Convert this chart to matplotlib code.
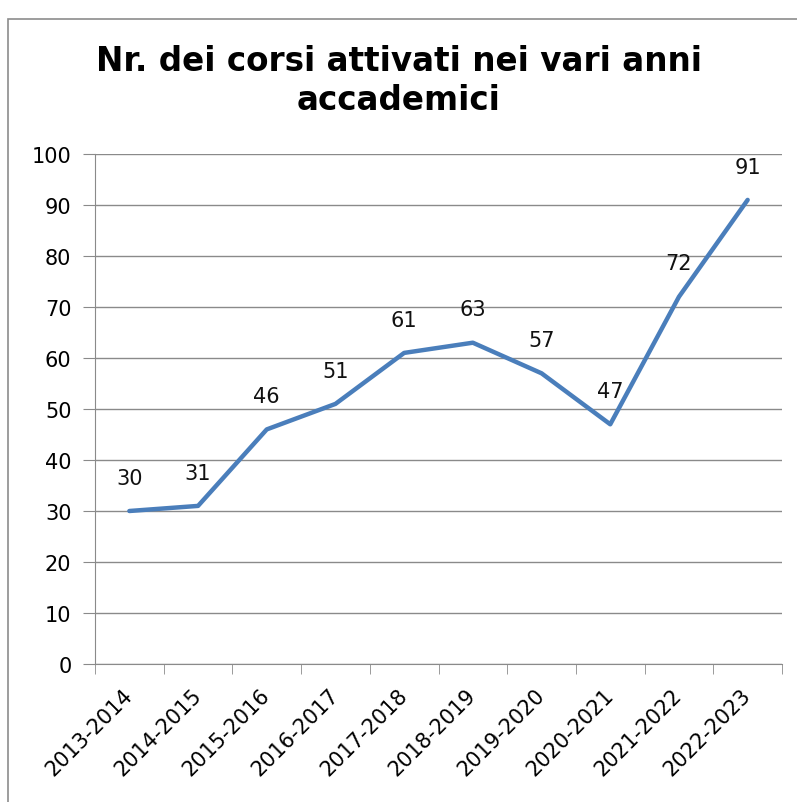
import matplotlib.pyplot as plt
import matplotlib.patches as patches
import numpy as np

anni = ['2013-2014', '2014-2015', '2015-2016', '2016-2017', '2017-2018',
        '2018-2019', '2019-2020', '2020-2021', '2021-2022', '2022-2023']
corsi = [30, 31, 46, 51, 61, 63, 57, 47, 72, 91]
titolo = 'Nr. dei corsi attivati nei vari anni\naccademici'

W, H = 797, 803
fig = plt.figure(figsize=(W / 100, H / 100), dpi=100)

# bordo esterno del grafico
fig.patches.append(patches.Rectangle((8 / W, -0.1), 1.1, 1 - 20 / H + 0.1,
                                     transform=fig.transFigure, fill=False,
                                     edgecolor='#8c8c8c', linewidth=1.2))

ax = fig.add_axes([95 / W, 1 - 665 / H, (782 - 95) / W, (665 - 155) / H])

x = np.arange(len(anni))
ax.plot(x, corsi, color='#4a7ebb', linewidth=3.2, solid_capstyle='round')

for xi, v in zip(x, corsi):
    ax.annotate(str(v), (xi, v), xytext=(0, 24), textcoords='offset points',
                ha='center', va='center', fontsize=15, color='#111111')

ax.set_xlim(-0.5, len(anni) - 0.5)
ax.set_ylim(0, 100)
ax.set_yticks(range(0, 101, 10))
ax.grid(axis='y', color='#8a8a8a', linewidth=1)
ax.set_axisbelow(True)

ax.set_xticks(x)
ax.set_xticklabels(anni, rotation=45, ha='right', va='center',
                   rotation_mode='anchor', fontsize=15)
ax.set_xticks(np.arange(-0.5, len(anni)), minor=True)
ax.tick_params(axis='x', which='major', length=0, pad=20)
ax.tick_params(axis='x', which='minor', length=7, color='#8a8a8a', direction='out')
ax.tick_params(axis='y', length=9, color='#8a8a8a', labelsize=15, pad=8)

for s in ['top', 'right']:
    ax.spines[s].set_visible(False)
for s in ['left', 'bottom']:
    ax.spines[s].set_color('#8a8a8a')

fig.text(0.5, 1 - 81 / H, titolo, ha='center', va='center', fontsize=23.5,
         fontweight='bold', linespacing=1.2)

fig.savefig('out.png', dpi=100)
